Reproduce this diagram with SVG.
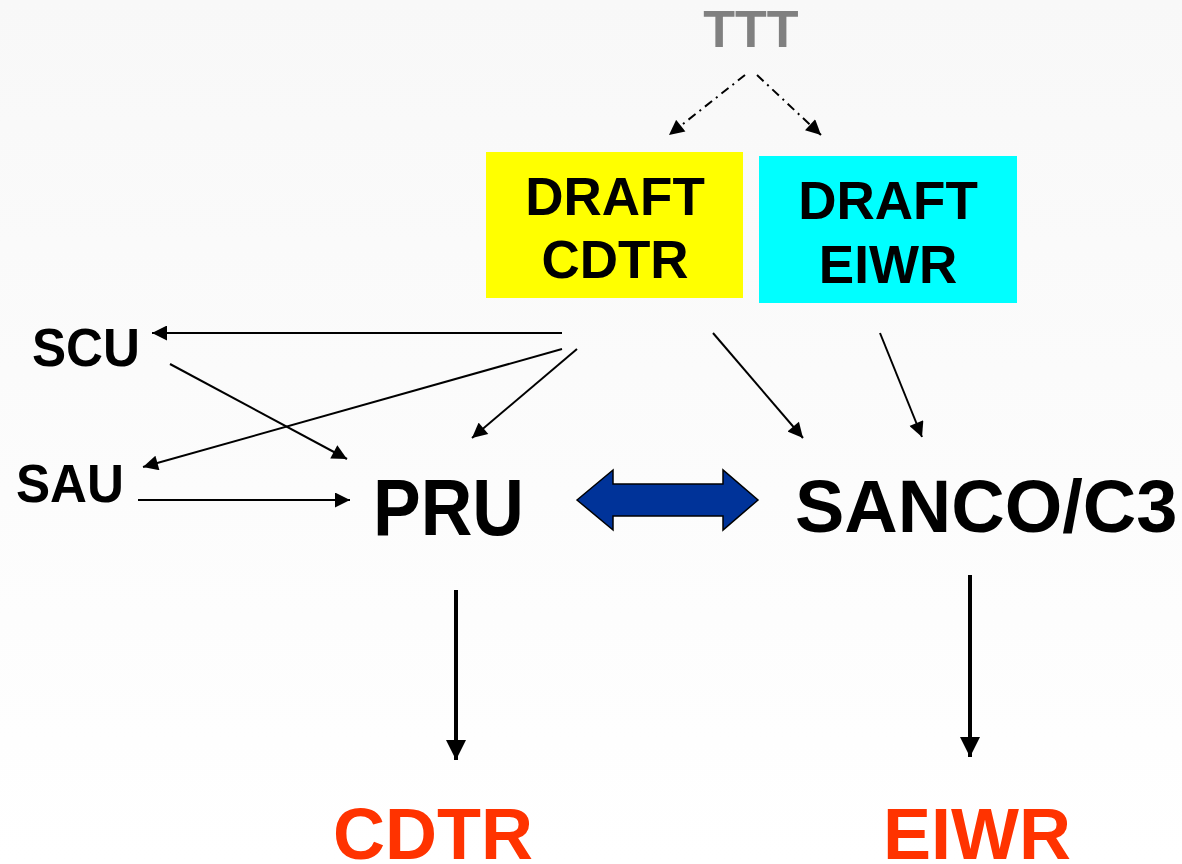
<svg xmlns="http://www.w3.org/2000/svg" width="1182" height="864" viewBox="0 0 1182 864">
  <defs>
    <linearGradient id="bg" x1="0" y1="0" x2="0" y2="1">
      <stop offset="0" stop-color="#f8f8f8"/>
      <stop offset="1" stop-color="#ffffff"/>
    </linearGradient>
    <marker id="ah" viewBox="0 0 10 10" refX="10" refY="5" markerWidth="8" markerHeight="7.5" markerUnits="strokeWidth" orient="auto">
      <path d="M0,0 L10,5 L0,10 z" fill="#000"/>
    </marker>
    <marker id="ahb" viewBox="0 0 10 10" refX="10" refY="5" markerWidth="5" markerHeight="5" markerUnits="strokeWidth" orient="auto">
      <path d="M0,0 L10,5 L0,10 z" fill="#000"/>
    </marker>
    <style>
      .t { font-family: "Liberation Sans", Arial, sans-serif; font-weight: bold; }
      .thin { stroke: #000; stroke-width: 2; fill: none; marker-end: url(#ah); }
      .thick { stroke: #000; stroke-width: 4; fill: none; marker-end: url(#ahb); }
      .dash { stroke: #000; stroke-width: 2; fill: none; stroke-dasharray: 9 5 2 5; marker-end: url(#ah); }
    </style>
  </defs>
  <rect width="1182" height="864" fill="url(#bg)"/>

  <g id="connectors">
    <line class="dash" x1="745" y1="75" x2="669" y2="135"/>
    <line class="dash" x1="757" y1="75" x2="821" y2="135"/>
    <line class="thin" x1="562" y1="333" x2="152" y2="333"/>
    <line class="thin" x1="562" y1="349" x2="143" y2="467"/>
    <line class="thin" x1="577" y1="349" x2="472" y2="438"/>
    <line class="thin" x1="170" y1="364" x2="347" y2="459"/>
    <line class="thin" x1="138" y1="500" x2="350" y2="500"/>
    <line class="thin" x1="713" y1="333" x2="803" y2="438"/>
    <line class="thin" x1="880" y1="333" x2="922" y2="437"/>
    <line class="thick" x1="456" y1="590" x2="456" y2="760"/>
    <line class="thick" x1="970" y1="575" x2="970" y2="757"/>
    <path d="M577,500 L613,470 L613,484 L723,484 L723,470 L758,500 L723,530 L723,516 L613,516 L613,530 Z" fill="#003399" stroke="#000" stroke-width="1.5"/>
  </g>

  <g id="ttt">
    <text class="t" x="751" y="47" font-size="52" fill="#808080" text-anchor="middle">TTT</text>
  </g>
  <g id="draft-cdtr">
    <rect x="486" y="152" width="257" height="146" fill="#ffff00"/>
    <text class="t" x="615" y="215" font-size="53" text-anchor="middle">DRAFT</text>
    <text class="t" x="615" y="278" font-size="53" text-anchor="middle">CDTR</text>
  </g>
  <g id="draft-eiwr">
    <rect x="759" y="156" width="258" height="147" fill="#00ffff"/>
    <text class="t" x="888" y="219" font-size="53" text-anchor="middle">DRAFT</text>
    <text class="t" x="888" y="283" font-size="53" text-anchor="middle">EIWR</text>
  </g>
  <g id="scu">
    <text class="t" x="32" y="366" font-size="54" textLength="108" lengthAdjust="spacingAndGlyphs">SCU</text>
  </g>
  <g id="sau">
    <text class="t" x="16" y="502" font-size="54" textLength="108" lengthAdjust="spacingAndGlyphs">SAU</text>
  </g>
  <g id="pru">
    <text class="t" x="373" y="535" font-size="80" textLength="151" lengthAdjust="spacingAndGlyphs">PRU</text>
  </g>
  <g id="sanco">
    <text class="t" x="795" y="532" font-size="74">SANCO/C3</text>
  </g>
  <g id="cdtr">
    <text class="t" x="433" y="859" font-size="72" fill="#ff3300" text-anchor="middle">CDTR</text>
  </g>
  <g id="eiwr">
    <text class="t" x="977" y="859" font-size="72" fill="#ff3300" text-anchor="middle">EIWR</text>
  </g>
</svg>
